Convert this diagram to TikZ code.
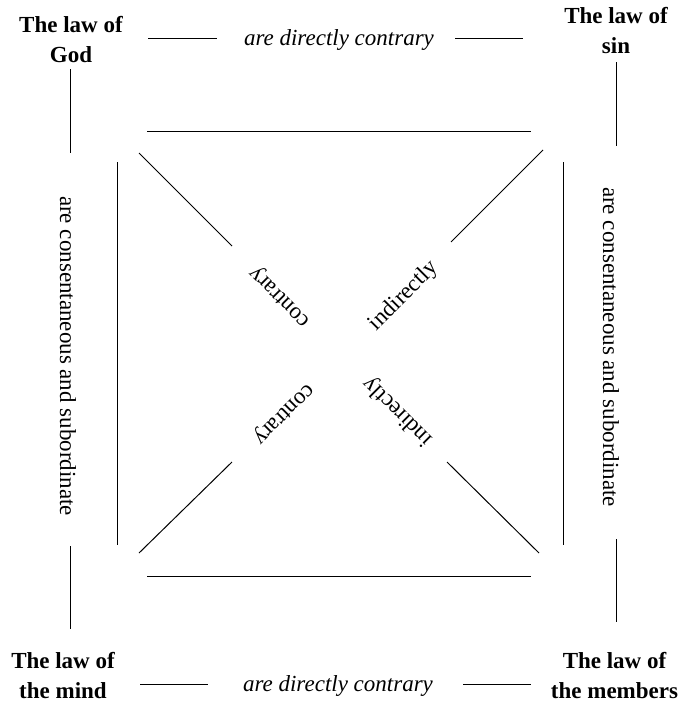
\documentclass[tikz,border=0pt]{standalone}
\usepackage{fontspec}
\setmainfont{Liberation Serif}
\begin{document}
\begin{tikzpicture}[x=1pt,y=-1pt,
  lbl/.style={font=\fontsize{23}{30}\selectfont\bfseries, align=center, inner sep=0pt, anchor=north},
  rel/.style={font=\fontsize{23}{28}\selectfont\itshape, inner sep=0pt, anchor=base},
  txt/.style={font=\fontsize{23}{28}\selectfont, inner sep=0pt},
  ln/.style={line width=1pt, black}]
\useasboundingbox (0,0) rectangle (680,704);
% labels
\node[lbl] (god) at (71,16) {The law of\\God};
\node[lbl] (sin) at (616,7.6) {The law of\\sin};
\node[lbl] (mind) at (63,652.3) {The law of\\the mind};
\node[lbl] (members) at (614.5,652.3) {The law of\\the members};
% relation texts
\node[rel] (topr) at (339,45) {are directly contrary};
\node[rel] (botr) at (338,691) {are directly contrary};
\node[txt, rotate=-90] (leftr) at (68,356) {are consentaneous and subordinate};
\node[txt, rotate=-90] (rightr) at (611,347) {are consentaneous and subordinate};
\node[txt, rotate=135] (tlc) at (281,296) {contrary};
\node[txt, rotate=45] (tri) at (404,296) {indirectly};
\node[txt, rotate=225] (blc) at (283,413) {contrary};
\node[txt, rotate=135] (bri) at (398,411) {indirectly};
% coordinates
\coordinate (t1a) at (148,38.5); \coordinate (t1b) at (217,38.5);
\coordinate (t2a) at (455,38.5); \coordinate (t2b) at (523,38.5);
\coordinate (b1a) at (140,684); \coordinate (b1b) at (208,684);
\coordinate (b2a) at (463,684); \coordinate (b2b) at (531,684);
\coordinate (l1a) at (70,69); \coordinate (l1b) at (70,153);
\coordinate (l2a) at (70,546); \coordinate (l2b) at (70,629);
\coordinate (r1a) at (616,62); \coordinate (r1b) at (616,146);
\coordinate (r2a) at (616,539); \coordinate (r2b) at (616,622);
\coordinate (itA) at (147,131); \coordinate (itB) at (531,131);
\coordinate (ibA) at (147,576); \coordinate (ibB) at (531,576);
\coordinate (ilA) at (117,162); \coordinate (ilB) at (117,545);
\coordinate (irA) at (563,162); \coordinate (irB) at (563,545);
\coordinate (d1a) at (139,153); \coordinate (d1b) at (232,246);
\coordinate (d2a) at (543,150); \coordinate (d2b) at (451,242);
\coordinate (d3a) at (139,553); \coordinate (d3b) at (232,462);
\coordinate (d4a) at (539,553); \coordinate (d4b) at (447,462);
% lines
\draw[ln] (t1a) -- (t1b); \draw[ln] (t2a) -- (t2b);
\draw[ln] (b1a) -- (b1b); \draw[ln] (b2a) -- (b2b);
\draw[ln] (l1a) -- (l1b); \draw[ln] (l2a) -- (l2b);
\draw[ln] (r1a) -- (r1b); \draw[ln] (r2a) -- (r2b);
\draw[ln] (itA) -- (itB); \draw[ln] (ibA) -- (ibB);
\draw[ln] (ilA) -- (ilB); \draw[ln] (irA) -- (irB);
\draw[ln] (d1a) -- (d1b); \draw[ln] (d2a) -- (d2b);
\draw[ln] (d3a) -- (d3b); \draw[ln] (d4a) -- (d4b);
\end{tikzpicture}
\end{document}
